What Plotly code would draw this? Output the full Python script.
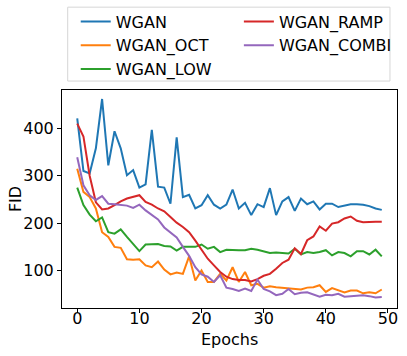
import plotly.graph_objects as go

epochs = list(range(50))

wgan = [421, 310, 305, 358, 462, 322, 394, 358, 301, 312,
        275, 282, 397, 277, 275, 241, 381, 255, 260, 231,
        238, 259, 239, 231, 239, 271, 231, 243, 217, 240,
        234, 274, 217, 246, 255, 226, 252, 240, 246, 229,
        241, 241, 234, 237, 240, 240, 239, 236, 231, 228]
wgan_oct = [315, 266, 255, 231, 181, 171, 150, 148, 124, 123,
            124, 111, 107, 119, 102, 92, 96, 93, 130, 79,
            100, 76, 76, 93, 79, 107, 76, 97, 69, 72,
            64, 67, 65, 64, 63, 61, 60, 64, 65, 69,
            55, 63, 58, 54, 58, 58, 52, 54, 52, 60]
wgan_low = [275, 238, 218, 204, 212, 181, 178, 187, 171, 157,
            141, 155, 155, 156, 152, 151, 142, 150, 150, 150,
            155, 146, 150, 139, 144, 143, 143, 143, 146, 144,
            141, 137, 138, 137, 136, 146, 134, 139, 137, 139,
            143, 132, 139, 137, 130, 141, 141, 134, 144, 130]
wgan_ramp = [410, 383, 300, 244, 229, 231, 238, 246, 252, 255,
             259, 245, 239, 231, 225, 213, 201, 192, 181, 163,
             144, 125, 111, 97, 87, 82, 80, 80, 77, 82,
             89, 93, 104, 116, 123, 147, 135, 164, 172, 193,
             184, 199, 202, 210, 214, 205, 202, 203, 203, 203]
wgan_combi = [339, 280, 259, 249, 257, 241, 240, 239, 237, 232,
              239, 227, 218, 208, 191, 180, 170, 150, 131, 107,
              92, 87, 76, 90, 64, 61, 57, 62, 57, 81,
              61, 56, 48, 51, 61, 50, 53, 54, 50, 45,
              49, 48, 51, 45, 46, 47, 48, 46, 43, 44]

# name, values, colour, legend column (two columns, filled top to bottom)
series = [
    ("WGAN", wgan, "#1f77b4", "legend"),
    ("WGAN_OCT", wgan_oct, "#ff7f0e", "legend"),
    ("WGAN_LOW", wgan_low, "#2ca02c", "legend"),
    ("WGAN_RAMP", wgan_ramp, "#d62728", "legend2"),
    ("WGAN_COMBI", wgan_combi, "#9467bd", "legend2"),
]

fig = go.Figure()
for name, vals, color, leg in series:
    fig.add_trace(go.Scatter(
        x=epochs, y=vals, name=name, mode="lines",
        line=dict(color=color, width=2),
        legend=leg,
    ))

axis_style = dict(
    showline=True, linecolor="black", linewidth=1, mirror=True,
    ticks="outside", ticklen=4, tickcolor="black",
    showgrid=False, zeroline=False, automargin=False,
    tickfont=dict(size=16, color="black"),
)

leg_style = dict(
    orientation="v", yanchor="top", xanchor="left", y=1.392,
    bgcolor="rgba(0,0,0,0)", borderwidth=0, itemwidth=30,
    font=dict(size=16, color="black"), tracegroupgap=0,
)

fig.update_layout(
    width=407, height=356,
    margin=dict(l=62, r=10, t=90, b=48, autoexpand=False),
    paper_bgcolor="white", plot_bgcolor="white",
    font=dict(family="DejaVu Sans", size=16, color="black"),
    showlegend=True,
    legend=dict(x=0.041, **leg_style),
    legend2=dict(x=0.528, **leg_style),
    xaxis=dict(range=[-2.45, 51.45], tickvals=[0, 10, 20, 30, 40, 50],
               ticklabelstandoff=-8, **axis_style),
    yaxis=dict(range=[21, 481], tickvals=[100, 200, 300, 400], **axis_style),
    shapes=[dict(type="rect", xref="paper", yref="paper",
                 x0=0.017, x1=0.979, y0=1.041, y1=1.380,
                 line=dict(color="#d6d6d6", width=1), layer="below")],
    annotations=[
        dict(text="Epochs", xref="paper", yref="paper", x=0.5, y=-0.145,
             xanchor="center", yanchor="middle", showarrow=False,
             font=dict(size=16)),
        dict(text="FID", xref="paper", yref="paper", x=-0.14, y=0.5,
             xanchor="center", yanchor="middle", showarrow=False,
             textangle=-90, font=dict(size=16)),
    ],
)

# the page body has a default 8px margin; drop it so the figure sits at 0,0
fig.write_html("out.html", config={"displayModeBar": False},
               post_script="document.body.style.margin='0px';")
